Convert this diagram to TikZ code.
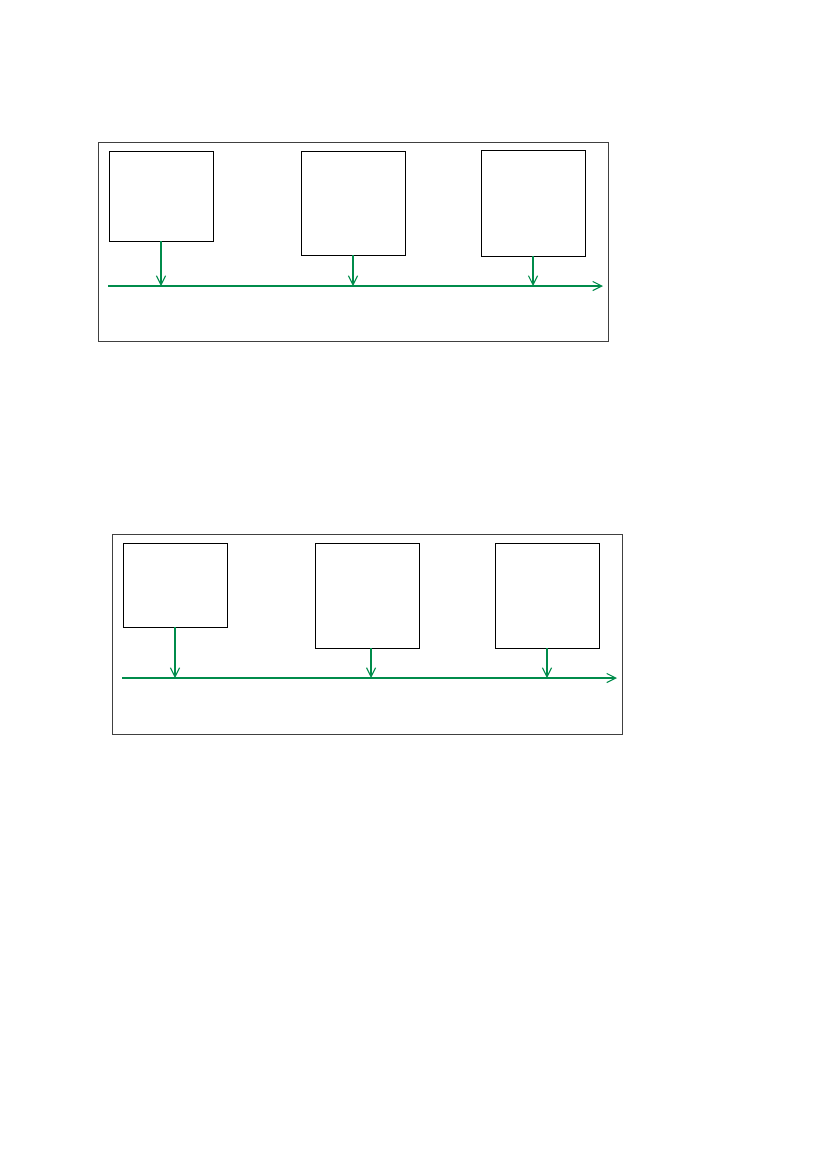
\documentclass[tikz,border=0pt]{standalone}
\usepackage{tikz}
\usetikzlibrary{positioning, arrows.meta}

\definecolor{flowgreen}{RGB}{0,140,75}

\tikzset{
	frame/.style={draw=black!75, line width=0.6pt, inner sep=0pt, outer sep=0pt, minimum width=367.2pt},
	stage/.style={draw=black, line width=0.6pt, inner sep=0pt, outer sep=0pt, minimum width=74.9pt},
	feed/.style={color=flowgreen, line width=0.8pt, -{Straight Barb[length=6.5pt, width=6.5pt]}},
}

\begin{document}
\begin{tikzpicture}[x=0.72pt, y=-0.72pt]
	\useasboundingbox (0,0) rectangle (827,1169);

	% first panel
	\node[frame, minimum height=143.3pt] (frameA) at (353, 241.5) {};

	\node[stage, minimum height=64.8pt] (a1) at (161, 196) {};
	\node[stage, minimum height=74.9pt] (a2) at (353, 203) {};
	\node[stage, minimum height=76.3pt] (a3) at (533, 203) {};

	\coordinate (axisAstart) at (108, 286);
	\coordinate (axisAend) at (603, 286);

	\draw[feed] (axisAstart) -- (axisAend);
	\draw[feed] (a1.south) -- (a1.south |- axisAstart);
	\draw[feed] (a2.south) -- (a2.south |- axisAstart);
	\draw[feed] (a3.south) -- (a3.south |- axisAstart);

	% second panel
	\node[frame, minimum height=144pt] (frameB) at (367, 634) {};

	\node[stage, minimum height=60.5pt] (b1) at (175, 585) {};
	\node[stage, minimum height=75.6pt] (b2) at (367, 595.5) {};
	\node[stage, minimum height=75.6pt] (b3) at (547, 595.5) {};

	\coordinate (axisBstart) at (122, 678);
	\coordinate (axisBend) at (617, 678);

	\draw[feed] (axisBstart) -- (axisBend);
	\draw[feed] (b1.south) -- (b1.south |- axisBstart);
	\draw[feed] ([xshift=2.9pt]b2.south) -- ([xshift=2.9pt]b2.south |- axisBstart);
	\draw[feed] (b3.south) -- (b3.south |- axisBstart);
\end{tikzpicture}
\end{document}
